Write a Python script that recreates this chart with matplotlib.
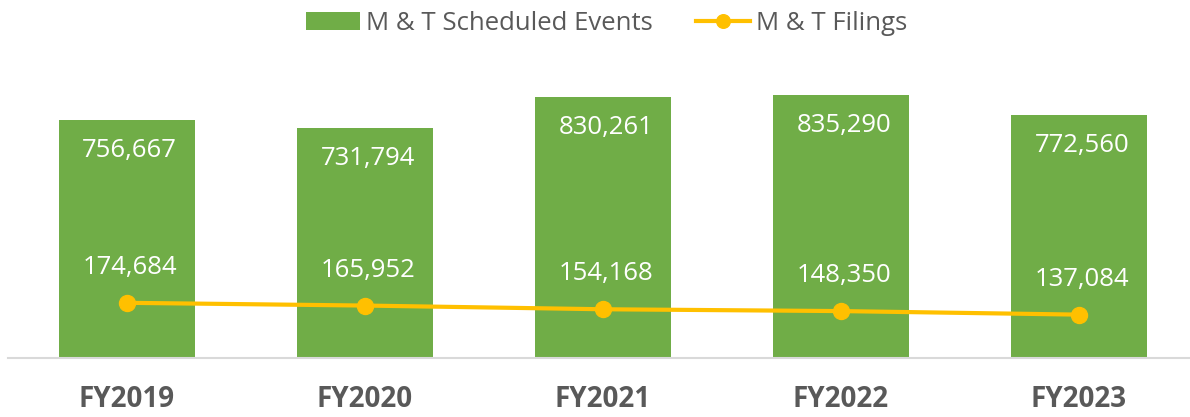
#!/usr/bin/env python3

import matplotlib
matplotlib.use("Agg")
import matplotlib.pyplot as plt

# chart data
years = ["FY2019", "FY2020", "FY2021", "FY2022", "FY2023"]
scheduled_events = [756667, 731794, 830261, 835290, 772560]
filings = [174684, 165952, 154168, 148350, 137084]

GREEN = "#70AD47"
GOLD = "#FFC000"
GREY_TEXT = "#595959"

plt.rcParams["font.family"] = ["Open Sans", "DejaVu Sans"]

fig = plt.figure(figsize=(11.9, 4.17), dpi=100)
# axes placed in pixels: baseline at y~358, slots of ~238 px
ax = fig.add_axes([8 / 1190, (417 - 357.7) / 417, 1182 / 1190, 282.8 / 417])

x = list(range(len(years)))
bars = ax.bar(x, scheduled_events, width=0.571, color=GREEN,
              label="M & T Scheduled Events", zorder=2)
line, = ax.plot(x, filings, color=GOLD, linewidth=3, marker="o",
                markersize=11.5, label="M & T Filings", zorder=3)

ax.set_xlim(-0.5, -0.5 + 1182 / 238)
ax.set_ylim(0, 900000)

# value labels
for xi, v in zip(x, scheduled_events):
    ax.annotate(f"{v:,}", (xi, v), xytext=(2, -22), textcoords="offset points",
                ha="center", va="center", color="white", fontsize=18.5, zorder=4)
for xi, v in zip(x, filings):
    ax.annotate(f"{v:,}", (xi, v), xytext=(2, 25.5), textcoords="offset points",
                ha="center", va="center", color="white", fontsize=18.5, zorder=4)

ax.set_xticks(x)
ax.set_xticklabels(years, fontsize=20, fontweight="bold", color=GREY_TEXT)
ax.tick_params(axis="x", length=0, pad=20)
ax.set_yticks([])

for side in ["top", "right", "left"]:
    ax.spines[side].set_visible(False)
ax.spines["bottom"].set_color("#D9D9D9")
ax.spines["bottom"].set_linewidth(1.5)

leg = fig.legend(handles=[bars, line], loc="upper center",
                 bbox_to_anchor=(0.51, 1.03), ncol=2, frameon=False,
                 fontsize=18.5, handlelength=2.1, handletextpad=0.23,
                 columnspacing=1.7, markerscale=0.85)
for t in leg.get_texts():
    t.set_color(GREY_TEXT)

fig.savefig("out.png", dpi=100)
